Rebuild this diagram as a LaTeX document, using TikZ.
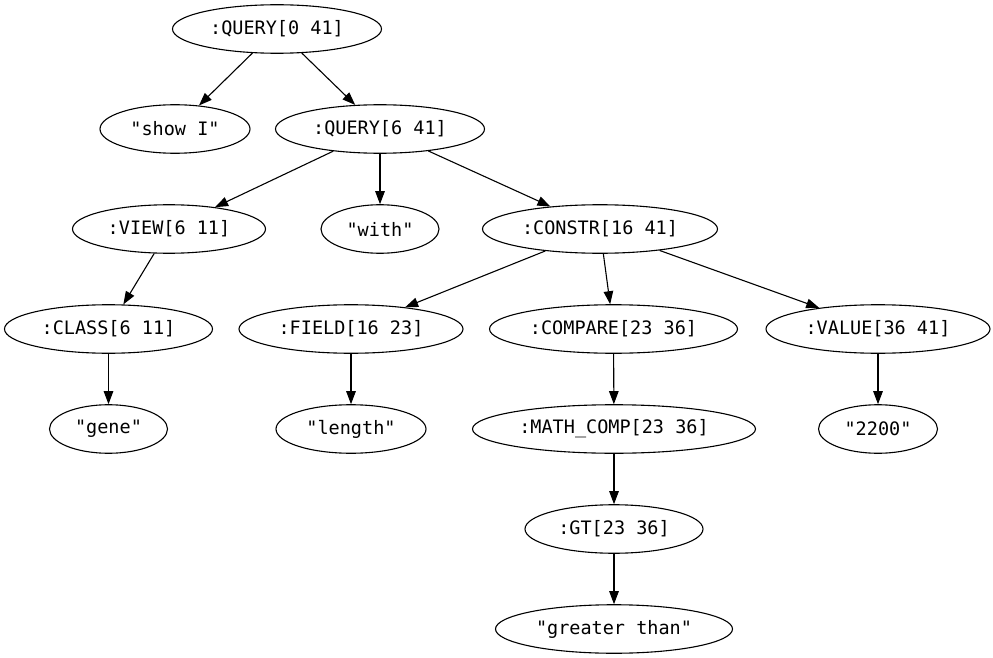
\documentclass[tikz,border=0pt]{standalone}
\usepackage{fontspec}
\setmonofont{DejaVu Sans Mono}
\usetikzlibrary{shapes.geometric,arrows.meta}
\tikzset{
  tn/.style={draw, ellipse, line width=1.1bp, inner sep=0pt, minimum height=48.5bp,
    font=\ttfamily\fontsize{18.5bp}{22bp}\selectfont},
  ed/.style={line width=1.1bp, -{Triangle[length=13bp,width=9.5bp]}},
}
\begin{document}
\begin{tikzpicture}[x=1bp,y=-1bp]
\fill[white] (0,0) rectangle (993,658);
\useasboundingbox (0,0) rectangle (993,658);
\node[tn, minimum width=209bp] (q0) at (277,29) {:QUERY[0 41]};
\node[tn, minimum width=150bp] (show) at (175,129) {"show I"};
\node[tn, minimum width=209bp] (q6) at (380,129) {:QUERY[6 41]};
\node[tn, minimum width=193bp] (view) at (169,229) {:VIEW[6 11]};
\node[tn, minimum width=118bp] (with) at (380,229) {"with"};
\node[tn, minimum width=235bp] (constr) at (600,229) {:CONSTR[16 41]};
\node[tn, minimum width=208bp] (class) at (108.5,329) {:CLASS[6 11]};
\node[tn, minimum width=224bp] (field) at (351,329) {:FIELD[16 23]};
\node[tn, minimum width=248bp] (compare) at (613.5,329) {:COMPARE[23 36]};
\node[tn, minimum width=224bp] (value) at (878,329) {:VALUE[36 41]};
\node[tn, minimum width=118bp] (gene) at (108.5,429) {"gene"};
\node[tn, minimum width=150bp] (length) at (351,429) {"length"};
\node[tn, minimum width=283bp] (mathcomp) at (614,429) {:MATH\_COMP[23 36]};
\node[tn, minimum width=119bp] (v2200) at (878,429) {"2200"};
\node[tn, minimum width=178bp] (gt) at (614,529) {:GT[23 36]};
\node[tn, minimum width=237bp] (greater) at (614,629) {"greater than"};
\draw[ed] (q0) -- (show);
\draw[ed] (q0) -- (q6);
\draw[ed] (q6) -- (view);
\draw[ed] (q6) -- (with);
\draw[ed] (q6) -- (constr);
\draw[ed] (view) -- (class);
\draw[ed] (constr) -- (field);
\draw[ed] (constr) -- (compare);
\draw[ed] (constr) -- (value);
\draw[ed] (class) -- (gene);
\draw[ed] (field) -- (length);
\draw[ed] (compare) -- (mathcomp);
\draw[ed] (value) -- (v2200);
\draw[ed] (mathcomp) -- (gt);
\draw[ed] (gt) -- (greater);
\end{tikzpicture}
\end{document}
